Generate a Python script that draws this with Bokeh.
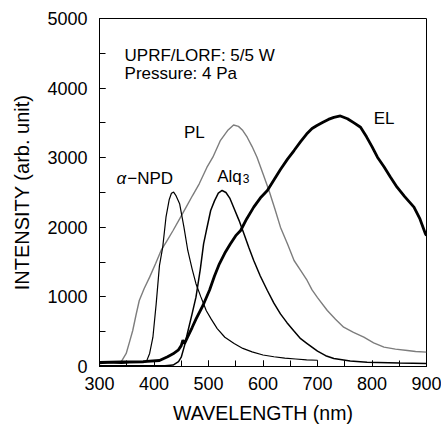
from bokeh.plotting import figure
from bokeh.models import Label, SingleIntervalTicker
from bokeh.embed import file_html
from bokeh.resources import INLINE

# ---- data ----
npd_x = [300, 320, 340, 360, 380, 386, 392, 398, 404, 410, 416, 422, 428, 432, 436,
         440, 447, 455, 462, 470, 477, 486, 496, 505, 516, 530, 547, 563, 580, 600,
         620, 640, 660, 680, 700]
npd_y = [40, 55, 45, 60, 55, 70, 187, 421, 900, 1450, 1714, 2145, 2400, 2490, 2505,
         2460, 2340, 2000, 1667, 1400, 1190, 1000, 800, 680, 545, 420, 330, 260, 210, 165,
         140, 120, 108, 95, 90]

pl_x = [300, 320, 340, 349, 355, 361, 367, 373, 382, 392, 403, 413, 424, 435, 447,
        459, 471, 483, 497, 508, 522, 535, 546, 555, 563, 571, 580, 589, 600, 611,
        622, 632, 645, 657, 669, 681, 690, 700, 718, 733, 748, 766, 785, 803, 822,
        843, 865, 880, 900]
pl_y = [60, 65, 70, 187, 350, 517, 740, 948, 1120, 1284, 1480, 1667, 1810, 1954, 2120,
        2290, 2460, 2625, 2860, 3007, 3250, 3390, 3470, 3450, 3390, 3294, 3160, 3007, 2770, 2529,
        2260, 2002, 1760, 1523, 1380, 1236, 1100, 990, 805, 680, 565, 490, 421, 340, 278,
        250, 230, 215, 206]

alq_x = [300, 420, 435, 445, 450, 456, 462, 470, 477, 485, 491, 496, 504, 511, 518,
         525, 532, 539, 546, 556, 565, 574, 583, 595, 608, 620, 632, 644, 656, 669,
         681, 700, 715, 730, 760, 791, 850, 900]
alq_y = [10, 10, 20, 70, 134, 300, 500, 760, 996, 1400, 1762, 1950, 2241, 2380, 2490,
         2529, 2500, 2420, 2289, 2100, 1906, 1710, 1523, 1300, 1092, 910, 756, 630, 517, 400,
         330, 220, 155, 115, 80, 62, 50, 43]

el_x = [300, 340, 380, 410, 425, 435, 445, 450, 453, 456, 462, 470, 477, 490, 502,
        511, 520, 530, 540, 550, 559, 570, 583, 595, 608, 620, 632, 645, 657, 669,
        680, 690, 699, 710, 720, 730, 742, 755, 767, 779, 790, 800, 810, 822, 834,
        846, 860, 877, 888, 898, 900]
el_y = [60, 65, 70, 86, 140, 182, 240, 300, 380, 330, 430, 560, 680, 880, 1100,
        1300, 1475, 1630, 1760, 1880, 1954, 2120, 2290, 2420, 2529, 2680, 2830, 2980, 3103, 3230,
        3340, 3420, 3463, 3510, 3550, 3580, 3600, 3560, 3500, 3438, 3300, 3160, 3007, 2870, 2720,
        2576, 2440, 2289, 2120, 1906, 1880]

x_title = "WAVELENGTH (nm)"
y_title = "INTENSITY (arb. unit)"

FONT = "Liberation Sans"

p = figure(width=441, height=426, x_range=(300, 900), y_range=(0, 5000),
           output_backend="svg", toolbar_location=None,
           min_border_left=99, min_border_top=18, min_border_right=15, min_border_bottom=60)

p.grid.visible = False
p.outline_line_color = "black"
p.outline_line_width = 1
p.background_fill_color = "white"
p.border_fill_color = "white"

p.line(pl_x, pl_y, line_color="#7d7d7d", line_width=1.4)
p.line(npd_x, npd_y, line_color="black", line_width=1.2)
p.line(alq_x, alq_y, line_color="black", line_width=1.5)
p.line(el_x, el_y, line_color="black", line_width=2.8)

for ax in (p.xaxis[0], p.yaxis[0]):
    ax.major_tick_in = 6
    ax.major_tick_out = 0
    ax.minor_tick_in = 6
    ax.minor_tick_out = 0
    ax.axis_line_color = "black"
    ax.major_tick_line_color = "black"
    ax.minor_tick_line_color = "black"
    ax.major_label_text_font = FONT
    ax.major_label_text_font_size = "18px"
    ax.major_label_text_color = "black"
    ax.axis_label_text_font = FONT
    ax.axis_label_text_font_style = "normal"
    ax.axis_label_text_color = "black"

p.xaxis.axis_label = x_title
p.yaxis.axis_label = y_title
p.xaxis.axis_label_text_font_size = "19.5px"
p.yaxis.axis_label_text_font_size = "20px"
p.xaxis.ticker = SingleIntervalTicker(interval=100, num_minor_ticks=2)
p.yaxis.ticker = SingleIntervalTicker(interval=1000, num_minor_ticks=2)
p.xaxis.major_label_standoff = 10
p.yaxis.major_label_standoff = 12
p.xaxis.axis_label_standoff = 9
p.yaxis.axis_label_standoff = 11


def lab(x, y, text, size="17px", style="normal"):
    p.add_layout(Label(x=x, y=y, text=text, text_font=FONT, text_font_size=size,
                       text_font_style=style, text_color="black",
                       text_baseline="alphabetic", text_align="left"))


lab(346, 4468, "UPRF/LORF: 5/5 W")
lab(346, 4214, "Pressure: 4 Pa")
lab(455, 3366, "PL")
lab(331, 2696, "α", style="italic")
lab(351, 2696, "−NPD")
lab(516, 2735, "Alq")
lab(563, 2705, "3", size="12px")
lab(803, 3559, "EL")

open("out.html", "w").write(file_html(p, INLINE))
